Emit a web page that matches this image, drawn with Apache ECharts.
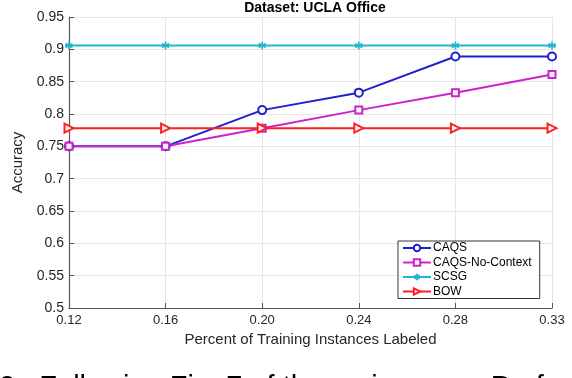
<!DOCTYPE html>
<html>
<head>
<meta charset="utf-8">
<script src="https://cdn.jsdelivr.net/npm/echarts@6/dist/echarts.min.js"></script>
<style>
  html, body { margin: 0; padding: 0; background: #fff; }
  #chart { width: 572px; height: 378px; }
</style>
</head>
<body>
<div id="chart"></div>
<script>
// x categories (percent of training instances labeled)
var categories = ['0.12', '0.16', '0.20', '0.24', '0.28', '0.33']
var caqs = [0.75, 0.75, 0.806, 0.833, 0.889, 0.889]
var caqsNoContext = [0.75, 0.75, 0.778, 0.806, 0.833, 0.861]
var scsg = [0.906, 0.906, 0.906, 0.906, 0.906, 0.906]
var bow = [0.778, 0.778, 0.778, 0.778, 0.778, 0.778]

var font = 'Liberation Sans, Arial, sans-serif'
var star = 'path://M0,-10L0,10M-8.66,-5L8.66,5M-8.66,5L8.66,-5M-10,0L10,0'

var chart = echarts.init(document.getElementById('chart'))

function line(name, data, color, symbol, size, rotate) {
  return {
    name: name,
    type: 'line',
    data: data,
    symbol: symbol,
    symbolSize: size,
    symbolRotate: rotate || 0,
    showAllSymbol: true,
    lineStyle: { color: color, width: 2 },
    itemStyle: { color: color, borderColor: color, borderWidth: 1.6 },
    animation: false
  }
}

chart.setOption({
  textStyle: { fontFamily: font },
  title: {
    text: 'Dataset: UCLA Office',
    left: 310,
    textAlign: 'center',
    top: -4,
    textStyle: { fontSize: 14, fontWeight: 'bold', color: '#000', fontFamily: font }
  },
  grid: { left: 69, right: 20, top: 17, bottom: 70 },
  legend: {
    orient: 'vertical',
    left: 398,
    top: 241,
    width: 144,
    padding: [1, 8, 1, 4],
    itemGap: 2.5,
    itemWidth: 28,
    itemHeight: 8,
    borderColor: '#333',
    borderWidth: 1,
    backgroundColor: '#fff',
    textStyle: { fontSize: 12, color: '#000', padding: [0, 0, 0, -3] },
    data: ['CAQS', 'CAQS-No-Context', 'SCSG', 'BOW']
  },
  xAxis: {
    type: 'category',
    data: categories,
    boundaryGap: false,
    name: 'Percent of Training Instances Labeled',
    nameLocation: 'middle',
    nameGap: 15,
    nameTextStyle: { fontSize: 15, color: '#262626' },
    axisLine: { lineStyle: { color: '#555', width: 1.2 } },
    axisTick: { inside: true, length: 5, lineStyle: { color: '#555' } },
    axisLabel: { fontSize: 13, color: '#262626', margin: 6 },
    splitLine: { show: true, lineStyle: { color: '#e6e6e6' } }
  },
  yAxis: {
    type: 'value',
    min: 0.5,
    max: 0.95,
    interval: 0.05,
    name: 'Accuracy',
    nameLocation: 'middle',
    nameGap: 35,
    nameTextStyle: { fontSize: 15, color: '#262626' },
    axisLine: { show: true, lineStyle: { color: '#555', width: 1.2 } },
    axisTick: { show: true, inside: true, length: 5, lineStyle: { color: '#555' } },
    axisLabel: {
      fontSize: 14,
      color: '#262626',
      margin: 5,
      formatter: function (v) { return String(parseFloat(v.toFixed(2))) }
    },
    splitLine: { show: true, lineStyle: { color: '#e6e6e6' } }
  },
  series: [
    line('CAQS', caqs, '#2020cc', 'emptyCircle', 8),
    line('CAQS-No-Context', caqsNoContext, '#cc22cc', 'emptyRect', 7),
    line('SCSG', scsg, '#1fb8d0', star, 8),
    line('BOW', bow, '#ff2020', 'emptyTriangle', 9, -90)
  ],
  graphic: [{
    type: 'text',
    left: -1,
    top: 373,
    style: {
      text: '2.  Following Fig. 7 of the main paper. Perf',
      font: '29px ' + font,
      fill: '#000'
    }
  }]
})
</script>
</body>
</html>
